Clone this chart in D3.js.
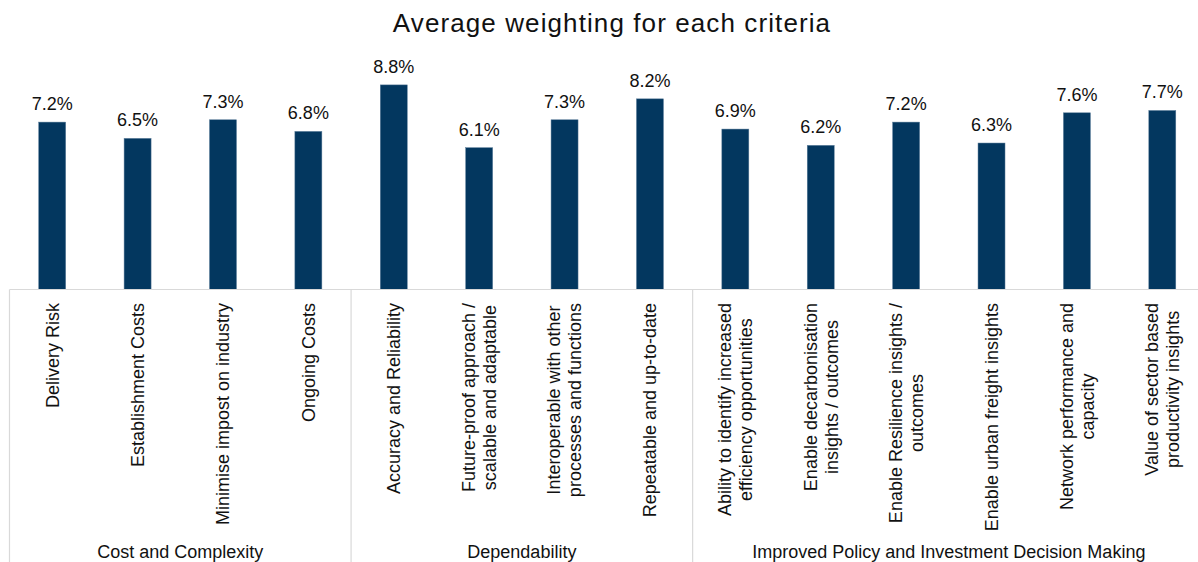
<!DOCTYPE html>
<html>
<head>
<meta charset="utf-8">
<script src="https://cdn.jsdelivr.net/npm/d3@7"></script>
<style>
  html, body { margin: 0; padding: 0; background: #ffffff; }
  svg { display: block; font-family: "Liberation Sans", Arial, sans-serif; }
</style>
</head>
<body>
<svg id="chart" width="1198" height="562"></svg>
<script>
// Criteria (line breaks marked with "|"), their groups and average weightings (%)
const criteria = [
  "Delivery Risk",
  "Establishment Costs",
  "Minimise impost on industry",
  "Ongoing Costs",
  "Accuracy and Reliability",
  "Future-proof approach /|scalable and adaptable",
  "Interoperable with other|processes and functions",
  "Repeatable and up-to-date",
  "Ability to identify increased|efficiency opportunities",
  "Enable decarbonisation|insights / outcomes",
  "Enable Resilience insights /|outcomes",
  "Enable urban freight insights",
  "Network performance and|capacity",
  "Value of sector based|productivity insights"
];
const weightings = [7.2, 6.5, 7.3, 6.8, 8.8, 6.1, 7.3, 8.2, 6.9, 6.2, 7.2, 6.3, 7.6, 7.7];
const groups = ["Cost and Complexity", "Dependability", "Improved Policy and Investment Decision Making"];
const groupSizes = [4, 4, 6];
const titleText = "Average weighting for each criteria";

const svg = d3.select("#chart");
const left = 9.5, right = 1205, baseY = 289.5, topY = 57;
const barColor = "#03375f";
const gridColor = "#d9d9d9";
const textColor = "#111111";

const x = d3.scaleBand().domain(d3.range(criteria.length)).range([left, right]).padding(0);
const y = d3.scaleLinear().domain([0, 10]).range([baseY, topY]);
const barW = x.bandwidth() * 0.316;

// Title
svg.append("text")
  .attr("x", 612).attr("y", 32)
  .attr("text-anchor", "middle")
  .attr("font-size", 26)
  .attr("letter-spacing", 1.1)
  .attr("fill", textColor)
  .text(titleText);

// Bars
svg.append("g").selectAll("rect").data(weightings).join("rect")
  .attr("x", (d, i) => x(i) + x.bandwidth() / 2 - barW / 2)
  .attr("y", d => y(d))
  .attr("width", barW)
  .attr("height", d => baseY - y(d))
  .attr("fill", barColor)
  .attr("stroke", "#5b7c99")
  .attr("stroke-width", 0.5);

// Value labels
svg.append("g").selectAll("text").data(weightings).join("text")
  .attr("x", (d, i) => x(i) + x.bandwidth() / 2)
  .attr("y", d => y(d) - 12)
  .attr("text-anchor", "middle")
  .attr("font-size", 18)
  .attr("fill", textColor)
  .text(d => d.toFixed(1) + "%");

// Category axis line
svg.append("line")
  .attr("x1", left).attr("x2", right)
  .attr("y1", baseY).attr("y2", baseY)
  .attr("stroke", gridColor).attr("stroke-width", 1.2);

// Group separators
const bounds = [0];
groupSizes.forEach(n => bounds.push(bounds[bounds.length - 1] + n));
bounds.forEach(b => {
  const bx = b < criteria.length ? x(b) : right;
  svg.append("line")
    .attr("x1", bx).attr("x2", bx)
    .attr("y1", baseY).attr("y2", 562)
    .attr("stroke", gridColor).attr("stroke-width", 1.2);
});

// Rotated criterion labels
const lineGap = 21;
const labelTop = 303;
criteria.forEach((label, i) => {
  const lines = label.split("|");
  const cx = x(i) + x.bandwidth() / 2;
  const g = svg.append("g").attr("transform", `translate(${cx},${labelTop}) rotate(-90)`);
  const texts = lines.map((ln, k) => g.append("text")
    .attr("text-anchor", "middle")
    .attr("font-size", 18)
    .attr("fill", textColor)
    .attr("y", (k - (lines.length - 1) / 2) * lineGap)
    .attr("dy", "0.35em")
    .text(ln));
  const w = d3.max(texts, t => t.node().getComputedTextLength());
  texts.forEach(t => t.attr("x", -w / 2));
});

// Group labels
groups.forEach((gname, k) => {
  const x0 = x(bounds[k]);
  const x1 = bounds[k + 1] < criteria.length ? x(bounds[k + 1]) : right;
  svg.append("text")
    .attr("x", (x0 + x1) / 2)
    .attr("y", 557.5)
    .attr("text-anchor", "middle")
    .attr("font-size", 18)
    .attr("fill", textColor)
    .text(gname);
});
</script>
</body>
</html>
